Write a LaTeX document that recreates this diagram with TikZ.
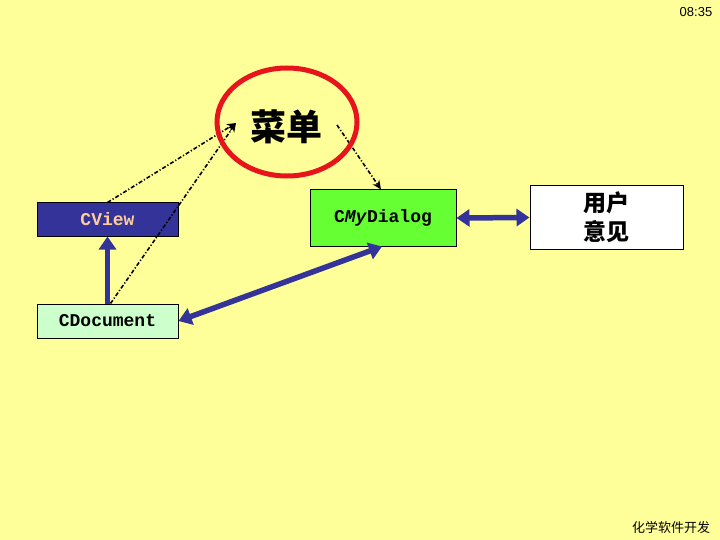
\documentclass[tikz,border=0pt]{standalone}
\usepackage{fontspec}
\setmainfont{Liberation Sans}
\setmonofont{Liberation Mono}
\newfontfamily\cjk{Noto Sans CJK SC}
\usetikzlibrary{arrows.meta,positioning,shapes.geometric}
\definecolor{slide}{HTML}{FFFF99}
\definecolor{navy}{HTML}{333399}
\definecolor{peach}{HTML}{FFCC99}
\definecolor{mint}{HTML}{CCFFCC}
\definecolor{lime}{HTML}{66FF33}
\definecolor{ringred}{HTML}{E8141C}
\tikzset{
    classbox/.style={draw=black, line width=1pt, font=\ttfamily\bfseries\fontsize{18}{20}\selectfont},
    fatarrow/.style={navy, line width=5.5pt, -{Triangle[length=13pt,width=17pt]}},
    fatboth/.style={navy, line width=5.5pt, {Triangle[length=13pt,width=17pt]}-{Triangle[length=13pt,width=17pt]}},
    dotarrow/.style={black, line width=1.6pt, dash pattern=on 4pt off 2pt on 1.2pt off 2pt, -{Stealth[length=9pt,width=8pt]}}
}

\begin{document}
\begin{tikzpicture}[x=1pt,y=-1pt]
        \fill[slide] (0,0) rectangle (720,540);
        \useasboundingbox (0,0) rectangle (720,540);

        % classes
        \node[classbox, fill=navy, text=peach, minimum width=141pt, minimum height=33pt] (view) at (107.5,219.5) {CView};
        \node[classbox, fill=mint, minimum width=141pt, minimum height=34pt] (doc) at (107.5,321) {CDocument};
        \node[classbox, fill=lime, minimum width=146pt, minimum height=56pt] (dlg) at (383,218) {C\textit{My}Dialog};
        \node[draw=black, line width=1pt, fill=white, minimum width=153pt, minimum height=63pt, align=center,
              font=\cjk\bfseries\fontsize{23}{29}\selectfont] (user) at (606.5,217.5) {用户\\意见};

        % menu
        \node[font=\cjk\bfseries\fontsize{36}{38}\selectfont] (menu) at (286,127) {菜单};
        \coordinate (menuin) at (236,123);
        \coordinate (menuout) at (337,125);

        \draw[dotarrow] (view.north) -- (menuin);
        \draw[dotarrow] ([xshift=3pt]doc.north) -- (menuin);
        \draw[dotarrow] (menuout) -- ([xshift=-2pt]dlg.north);

        \node[draw=ringred, line width=5pt, ellipse, minimum width=140pt, minimum height=108pt] (ring) at (287,122) {};

        % links
        \draw[fatarrow] (doc.north) -- (view.south);
        \draw[fatboth] (doc.east) -- ([xshift=-1pt]dlg.south);
        \draw[fatboth] (dlg.east) -- (user.west);

        \node[font=\fontsize{13}{15}\selectfont] (clock) at (696,12) {08:35};
        \node[font=\cjk\fontsize{13}{15}\selectfont] (foot) at (671,528) {化学软件开发};
    \end{tikzpicture}
\end{document}
